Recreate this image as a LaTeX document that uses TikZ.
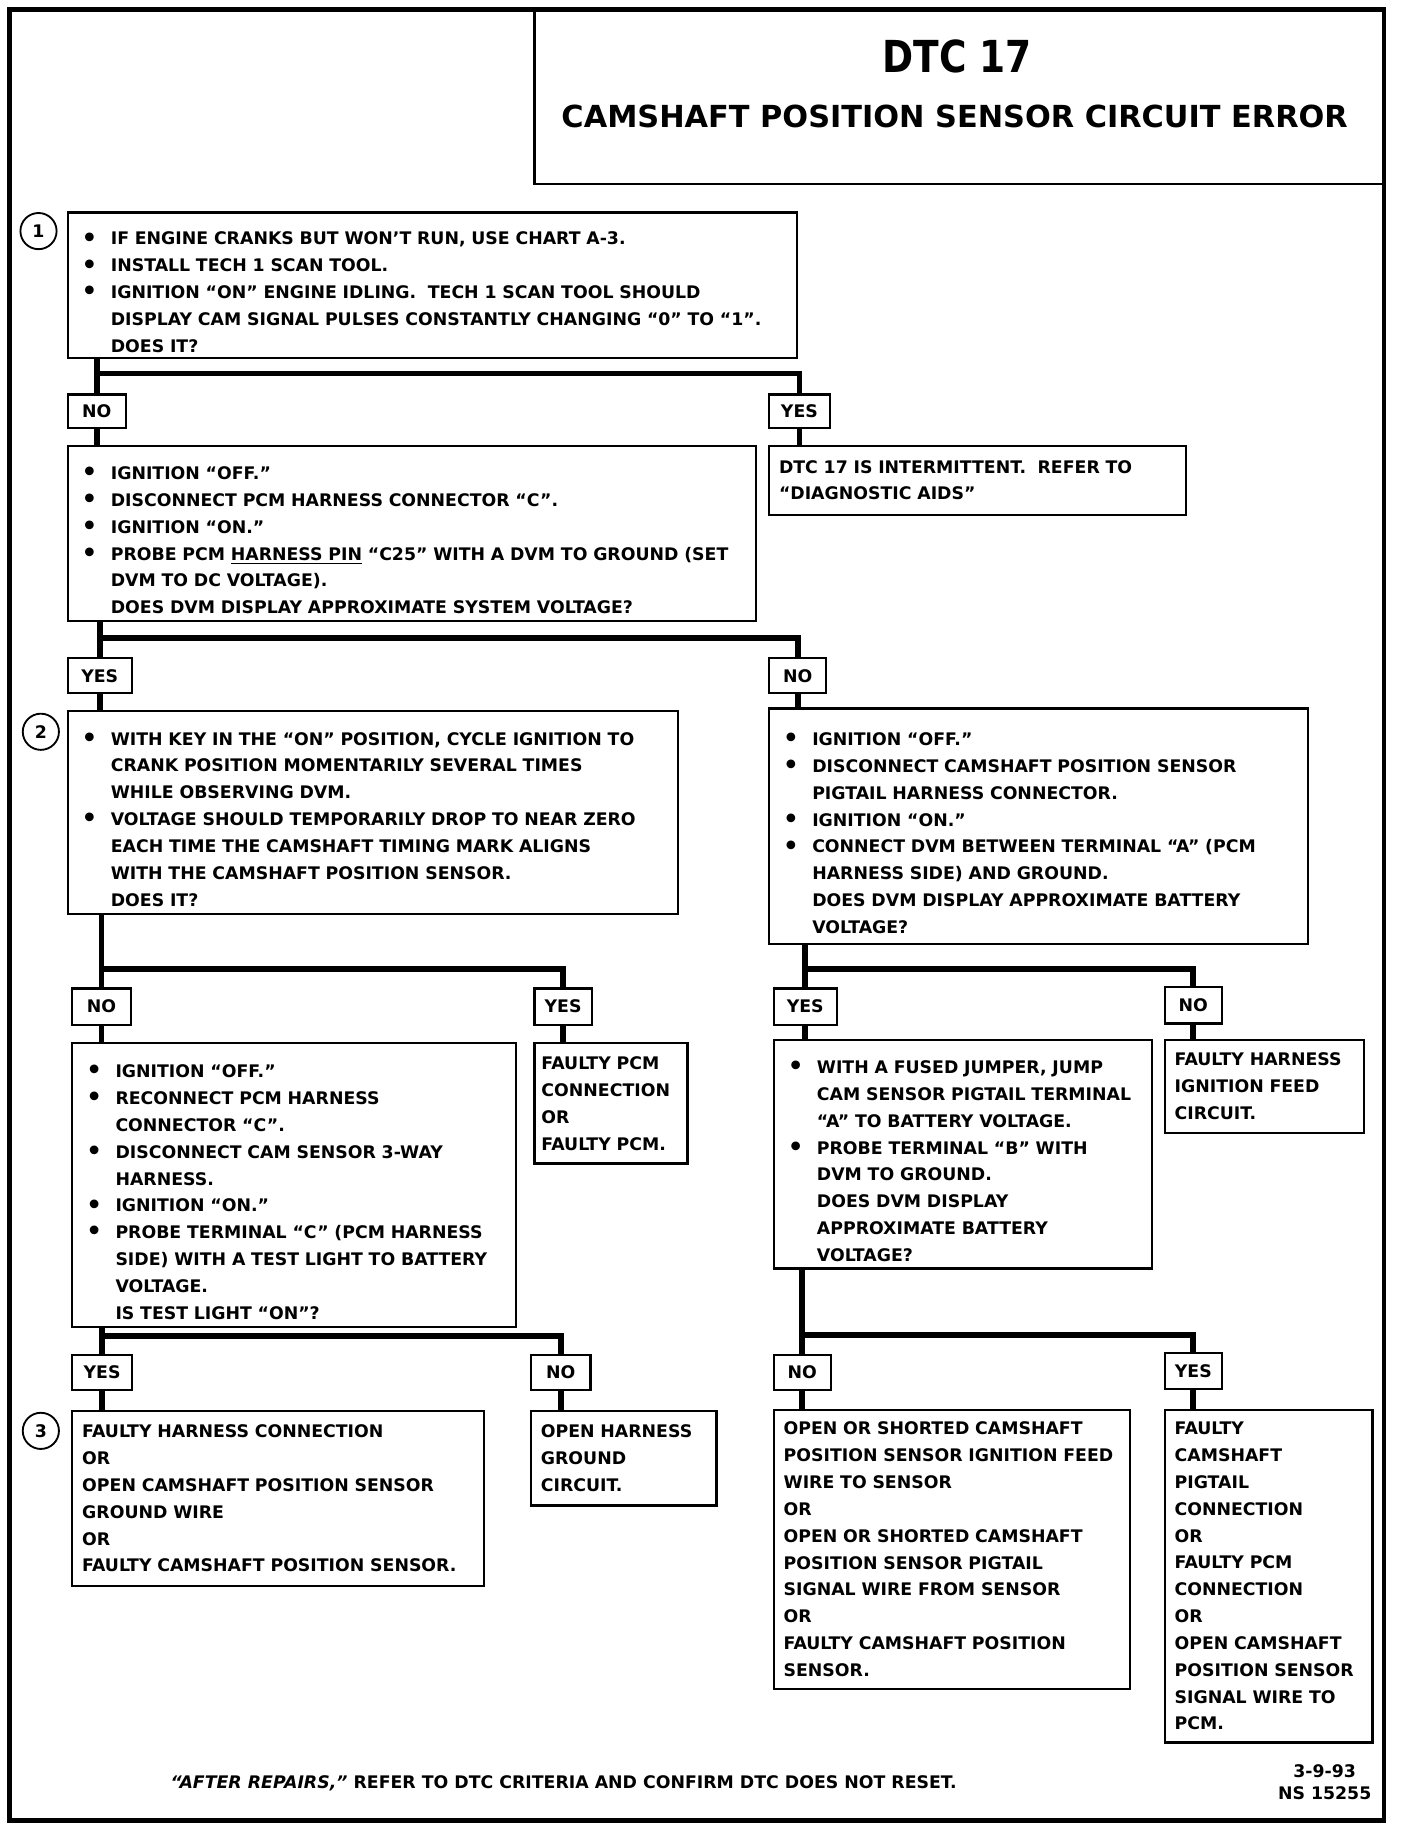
\documentclass[tikz,border=0pt]{standalone}
\usepackage{fontspec}
\setmainfont{DejaVu Sans}
\newfontfamily\dtcfont{DejaVu Sans}[FakeStretch=0.85]
\usetikzlibrary{positioning}

\newcommand{\chartfont}{\fontsize{8.45}{13.09}\selectfont\bfseries}
\newcommand{\itm}{\par\hangindent=5mm\hangafter=1\noindent
    \makebox[5mm][l]{\raisebox{-0.6pt}{\fontsize{12}{12}\selectfont\textbullet}}}

\begin{document}
\begin{tikzpicture}[x=0.2mm, y=-0.2mm,
    box/.style={draw, line width=1.1pt, anchor=north west, align=left, inner ysep=0pt, font=\chartfont},
    bbox/.style={box, inner xsep=2.4mm},
    pbox/.style={box, inner xsep=1.7mm},
    tag/.style={draw, line width=1.1pt, anchor=north west, inner sep=0pt, font=\chartfont},
    link/.style={line width=1mm},
    num/.style={draw, circle, line width=0.9pt, inner sep=0pt, minimum size=6.2mm, font=\chartfont}]

    \useasboundingbox (0,0) rectangle (1220,1568);
    \draw[line width=2.2pt] (8,8) rectangle (1186,1560);

    % title
    \node[draw, line width=1.1pt, anchor=north west, minimum width=145.8mm, minimum height=29.8mm] (titlebox) at (457,8) {};
    \node[font=\dtcfont\fontsize{21.5}{24}\selectfont\bfseries] (dtc) at (820,48) {DTC 17};
    \node[font=\fontsize{14.8}{17}\selectfont\bfseries] (title) at (818,100) {CAMSHAFT POSITION SENSOR CIRCUIT ERROR};

    % step 1
    \node[num] (n1) at (33,198) {1};
    \node[bbox, text width=120.2mm, minimum height=25mm] (q1) at (57,181) {%
        \itm IF ENGINE CRANKS BUT WON’T RUN, USE CHART A-3.
        \itm INSTALL TECH 1 SCAN TOOL.
        \itm IGNITION “ON” ENGINE IDLING.~ TECH 1 SCAN TOOL SHOULD\newline
        DISPLAY CAM SIGNAL PULSES CONSTANTLY CHANGING “0” TO “1”.\newline
        DOES IT?\par};
    \node[tag, minimum width=10mm, minimum height=5.8mm] (noA) at (57,337) {NO};
    \node[tag, minimum width=10.4mm, minimum height=5.8mm] (yesA) at (658,337) {YES};
    \node[bbox, text width=113.2mm, minimum height=30mm] (q2) at (57,381) {%
        \itm IGNITION “OFF.”
        \itm DISCONNECT PCM HARNESS CONNECTOR “C”.
        \itm IGNITION “ON.”
        \itm PROBE PCM \underline{HARNESS PIN} “C25” WITH A DVM TO GROUND (SET\newline
        DVM TO DC VOLTAGE).\newline
        DOES DVM DISPLAY APPROXIMATE SYSTEM VOLTAGE?\par};
    \node[pbox, text width=68mm, minimum height=11.8mm] (intermit) at (658,381) {%
        DTC 17 IS INTERMITTENT.~ REFER TO\\
        “DIAGNOSTIC AIDS”};

    \draw[link] (q1.south -| noA) -- (noA.north);
    \draw[link] (noA.north) ++(0,-17) -| (yesA.north);
    \draw[link] (noA.south) -- (q2.north -| noA.south);
    \draw[link] (yesA.south) -- (intermit.north -| yesA.south);

    % step 2
    \node[tag, minimum width=11mm, minimum height=6mm] (yesB) at (57,563) {YES};
    \node[tag, minimum width=9.8mm, minimum height=6mm] (noB) at (658,563) {NO};
    \node[num] (n2) at (35,627) {2};
    \node[bbox, text width=99.8mm, minimum height=34.8mm] (q3) at (57,608) {%
        \itm WITH KEY IN THE “ON” POSITION, CYCLE IGNITION TO\newline
        CRANK POSITION MOMENTARILY SEVERAL TIMES\newline
        WHILE OBSERVING DVM.
        \itm VOLTAGE SHOULD TEMPORARILY DROP TO NEAR ZERO\newline
        EACH TIME THE CAMSHAFT TIMING MARK ALIGNS\newline
        WITH THE CAMSHAFT POSITION SENSOR.\newline
        DOES IT?\par};
    \node[bbox, text width=87.6mm, minimum height=40.4mm] (q4) at (658,606) {%
        \itm IGNITION “OFF.”
        \itm DISCONNECT CAMSHAFT POSITION SENSOR\newline
        PIGTAIL HARNESS CONNECTOR.
        \itm IGNITION “ON.”
        \itm CONNECT DVM BETWEEN TERMINAL “A” (PCM\newline
        HARNESS SIDE) AND GROUND.\newline
        DOES DVM DISPLAY APPROXIMATE BATTERY\newline
        VOLTAGE?\par};

    \draw[link] (q2.south -| yesB) -- (yesB.north);
    \draw[link] (yesB.north) ++(0,-16) -| (noB.north);
    \draw[link] (yesB.south) -- (q3.north -| yesB.south);
    \draw[link] (noB.south) -- (q4.north -| noB.south);

    % left branch
    \node[tag, minimum width=10mm, minimum height=6.2mm] (noC) at (61,846) {NO};
    \node[tag, minimum width=9.8mm, minimum height=6.2mm] (yesC) at (457,846) {YES};
    \node[bbox, text width=71.2mm, minimum height=48.6mm] (q5) at (61,893) {%
        \itm IGNITION “OFF.”
        \itm RECONNECT PCM HARNESS\newline
        CONNECTOR “C”.
        \itm DISCONNECT CAM SENSOR 3-WAY\newline
        HARNESS.
        \itm IGNITION “ON.”
        \itm PROBE TERMINAL “C” (PCM HARNESS\newline
        SIDE) WITH A TEST LIGHT TO BATTERY\newline
        VOLTAGE.\newline
        IS TEST LIGHT “ON”?\par};
    \node[box, inner xsep=1.2mm, text width=23.8mm, minimum height=20.6mm] (pcm) at (457,893) {%
        FAULTY PCM\\ CONNECTION\\ OR\\ FAULTY PCM.};

    \draw[link] (q3.south -| noC) -- (noC.north);
    \draw[link] (noC.north) ++(0,-16) -| (yesC.north);
    \draw[link] (noC.south) -- (q5.north -| noC.south);
    \draw[link] (yesC.south) -- (pcm.north -| yesC.south);

    % right branch
    \node[tag, minimum width=10.8mm, minimum height=6.2mm] (yesD) at (662,846) {YES};
    \node[tag, minimum width=9.8mm, minimum height=6.2mm] (noD) at (997,845) {NO};
    \node[bbox, text width=60mm, minimum height=39.2mm] (q6) at (662,890) {%
        \itm WITH A FUSED JUMPER, JUMP\newline
        CAM SENSOR PIGTAIL TERMINAL\newline
        “A” TO BATTERY VOLTAGE.
        \itm PROBE TERMINAL “B” WITH\newline
        DVM TO GROUND.\newline
        DOES DVM DISPLAY\newline
        APPROXIMATE BATTERY\newline
        VOLTAGE?\par};
    \node[pbox, text width=30.8mm, minimum height=16mm] (feed) at (997,890) {%
        FAULTY HARNESS\\ IGNITION FEED\\ CIRCUIT.};

    \draw[link] (q4.south -| yesD) -- (yesD.north);
    \draw[link] (yesD.north) ++(0,-16) -| (noD.north);
    \draw[link] (yesD.south) -- (q6.north -| yesD.south);
    \draw[link] (noD.south) -- (feed.north -| noD.south);

    % step 3
    \node[tag, minimum width=10.2mm, minimum height=6mm] (yesE) at (61,1160) {YES};
    \node[tag, minimum width=10.2mm, minimum height=6mm] (noE) at (454,1160) {NO};
    \node[num] (n3) at (35,1226) {3};
    \node[pbox, text width=67.2mm, minimum height=30mm] (r3) at (61,1208) {%
        FAULTY HARNESS CONNECTION\\ OR\\
        OPEN CAMSHAFT POSITION SENSOR\\ GROUND WIRE\\ OR\\
        FAULTY CAMSHAFT POSITION SENSOR.};
    \node[pbox, text width=28.4mm, minimum height=16.2mm] (ground) at (454,1208) {%
        OPEN HARNESS\\ GROUND\\ CIRCUIT.};

    \draw[link] (q5.south -| yesE) -- (yesE.north);
    \draw[link] (yesE.north) ++(0,-15) -| (noE.north);
    \draw[link] (yesE.south) -- (r3.north -| yesE.south);
    \draw[link] (noE.south) -- (ground.north -| noE.south);

    \node[tag, minimum width=9.8mm, minimum height=6mm] (noF) at (662,1160) {NO};
    \node[tag, minimum width=9.8mm, minimum height=6.2mm] (yesF) at (997,1158) {YES};
    \node[pbox, text width=57.6mm, minimum height=47.8mm] (wires) at (662,1207) {%
        OPEN OR SHORTED CAMSHAFT\\ POSITION SENSOR IGNITION FEED\\
        WIRE TO SENSOR\\ OR\\
        OPEN OR SHORTED CAMSHAFT\\ POSITION SENSOR PIGTAIL\\
        SIGNAL WIRE FROM SENSOR\\ OR\\
        FAULTY CAMSHAFT POSITION\\ SENSOR.};
    \node[pbox, text width=32.2mm, minimum height=57mm] (pigtail) at (997,1207) {%
        FAULTY\\ CAMSHAFT\\ PIGTAIL\\ CONNECTION\\ OR\\
        FAULTY PCM\\ CONNECTION\\ OR\\
        OPEN CAMSHAFT\\ POSITION SENSOR\\ SIGNAL WIRE TO\\ PCM.};

    \draw[link] (q6.south -| noF) -- (noF.north);
    \draw[link] (noF.north) ++(0,-16) -| (yesF.north);
    \draw[link] (noF.south) -- (wires.north -| noF.south);
    \draw[link] (yesF.south) -- (pigtail.north -| yesF.south);

    % footer
    \node[font=\chartfont] (note) at (483,1528) {\textit{“AFTER REPAIRS,”} REFER TO DTC CRITERIA AND CONFIRM DTC DOES NOT RESET.};
    \node[font=\fontsize{8.45}{10.8}\selectfont\bfseries, align=center] (stamp) at (1135,1527) {3-9-93\\NS 15255};
\end{tikzpicture}
\end{document}
